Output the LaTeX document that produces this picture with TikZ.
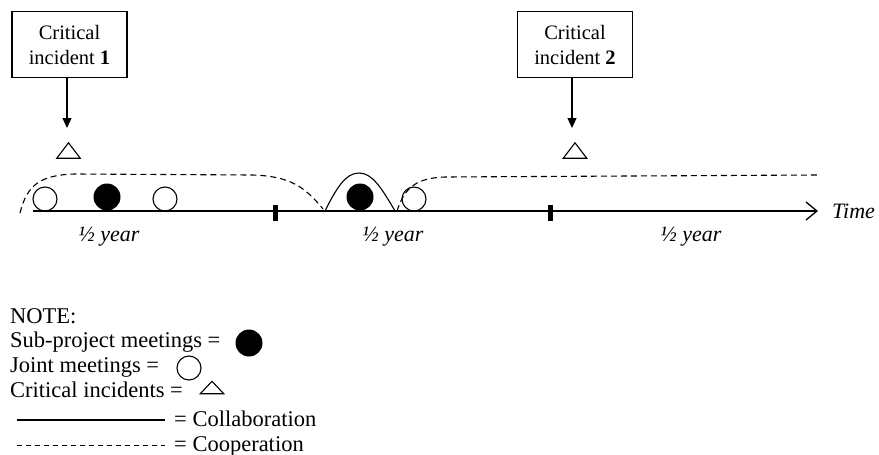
\documentclass[tikz,border=0pt]{standalone}
\usepackage{fontspec}
\setmainfont{Liberation Serif}
\usetikzlibrary{arrows.meta}
\begin{document}
\begin{tikzpicture}[x=1pt,y=-1pt,
  box/.style={draw, line width=1.1pt, minimum width=115pt, minimum height=66pt, align=center, font=\fontsize{20.5}{25}\selectfont, inner sep=0pt},
  tri/.style={minimum width=23pt, minimum height=15pt, inner sep=0pt},
  joint/.style={circle, draw, line width=1.1pt, minimum size=24pt, inner sep=0pt},
  sub/.style={circle, fill=black, minimum size=27pt, inner sep=0pt},
  tickmark/.style={fill=black, minimum width=5pt, minimum height=16pt, inner sep=0pt},
  lbl/.style={font=\fontsize{22}{25}\selectfont\itshape, inner sep=0pt},
  legend/.style={font=\fontsize{22.5}{25}\selectfont, anchor=base west, inner sep=0pt},
  coop/.style={dash pattern=on 6pt off 4pt, line width=1.1pt},
  collab/.style={line width=1.1pt},
  pointer/.style={line width=1.1pt, -{Triangle[length=10pt,width=9pt]}},
]
\useasboundingbox (0,0) rectangle (879,455);

% critical incident boxes
\node[box] (b1) at (69.5,44.5) {Critical\\incident \textbf{1}};
\node[box] (b2) at (575,44.5) {Critical\\incident \textbf{2}};
\node[tri] (t1) at (68.5,150.5) {};
\node[tri] (t2) at (575,150.5) {};
\draw[line width=1.1pt] (t1.south west) -- (t1.north) -- (t1.south east) -- cycle;
\draw[line width=1.1pt] (t2.south west) -- (t2.north) -- (t2.south east) -- cycle;
\coordinate (a1) at (67,128);
\coordinate (a2) at (572,128);
\draw[pointer] (b1.south -| a1) -- (a1);
\draw[pointer] (b2.south -| a2) -- (a2);

% timeline
\coordinate (ts) at (33,211);
\coordinate (te) at (818,211);
\draw[line width=1.3pt, -{Straight Barb[length=11pt,width=18pt,line width=1.3pt]}] (ts) -- (te);
\node[lbl, anchor=base west] (time) at (832,218) {Time};
\node[tickmark] (k1) at (275,213) {};
\node[tickmark] (k2) at (550,213) {};
\node[lbl, anchor=base] (h1) at (109,241) {½ year};
\node[lbl, anchor=base] (h2) at (393,241) {½ year};
\node[lbl, anchor=base] (h3) at (691,241) {½ year};

% meetings
\node[joint] (j1) at (45,199) {};
\node[sub] (s1) at (107,197) {};
\node[joint] (j2) at (165,199) {};
\node[sub] (s2) at (360,197) {};
\node[joint] (j3) at (414,199) {};

% cooperation / collaboration curves
\coordinate (c1a) at (20,213);
\coordinate (c1b) at (75,174);
\coordinate (c1c) at (252,175);
\coordinate (c1d) at (323,209);
\draw[coop] (c1a) .. controls (27,185) and (40,175) .. (c1b) -- (c1c) .. controls (290,176) and (305,187) .. (c1d);
\coordinate (k0) at (325,211);
\coordinate (kp) at (359,173);
\coordinate (k9) at (395,211);
\draw[collab] (k0) .. controls (337,187) and (346,173) .. (kp) .. controls (372,173) and (381,187) .. (k9);
\coordinate (c2a) at (397,211);
\coordinate (c2b) at (445,177);
\coordinate (c2c) at (817,175);
\draw[coop] (c2a) .. controls (405,186) and (418,178) .. (c2b) -- (c2c);

% legend
\node[legend] (n0) at (10,323) {NOTE:};
\node[legend] (n1) at (10,347) {Sub-project meetings =};
\node[sub] (ls) at (249,343) {};
\node[legend] (n2) at (10,372) {Joint meetings =};
\node[joint] (lj) at (189,368) {};
\node[legend] (n3) at (10,397) {Critical incidents =};
\node[tri, minimum height=12pt] (lt) at (212,387.5) {};
\draw[line width=1.1pt] (lt.south west) -- (lt.north) -- (lt.south east) -- cycle;
\coordinate (l1a) at (17,420);
\coordinate (l1b) at (165,420);
\draw[collab] (l1a) -- (l1b);
\node[legend] (n4) at (174,426) {= Collaboration};
\coordinate (l2a) at (17,445);
\coordinate (l2b) at (165,445);
\draw[dash pattern=on 5pt off 4pt, line width=1pt] (l2a) -- (l2b);
\node[legend] (n5) at (174,451) {= Cooperation};
\end{tikzpicture}
\end{document}
